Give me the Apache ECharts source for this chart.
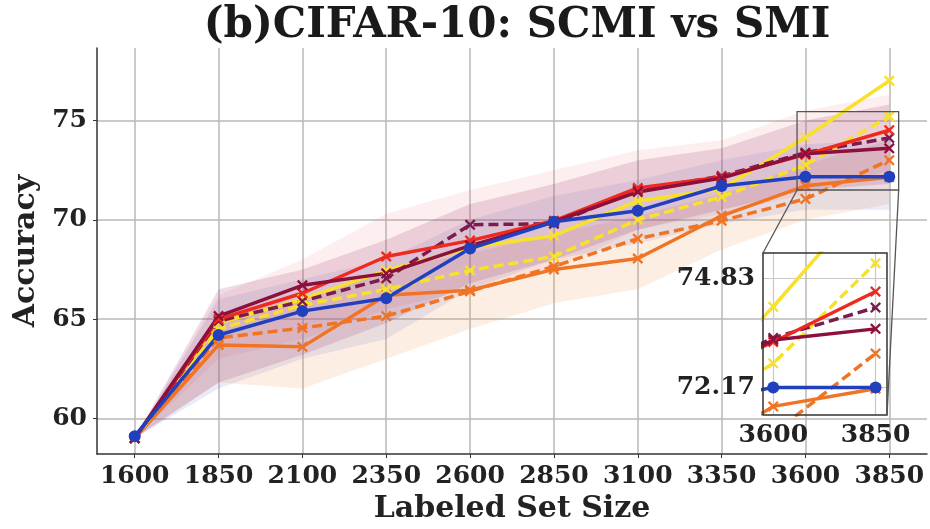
<!DOCTYPE html>
<html>
<head>
<meta charset="utf-8">
<script src="https://cdn.jsdelivr.net/npm/echarts@6/dist/echarts.min.js"></script>
<style>
  html, body { margin: 0; padding: 0; background: #fff; }
  #chart { width: 930px; height: 529px; }
</style>
</head>
<body>
<div id="chart"></div>
<script>
// labeled set sizes
var sizes = [1600, 1850, 2100, 2350, 2600, 2850, 3100, 3350, 3600, 3850];
var yTicks = [60, 65, 70, 75];

// accuracy curves
var yellowSolid  = [59.0, 64.8, 66.0, 67.45, 68.6, 69.2, 70.95, 71.55, 74.14, 77.0];
var yellowDashed = [59.0, 64.5, 65.7, 66.5, 67.45, 68.15, 70.0, 71.15, 72.76, 75.2];
var redSolid     = [59.0, 65.0, 66.3, 68.15, 68.95, 69.95, 71.6, 72.15, 73.28, 74.51];
var maroonSolid  = [59.0, 65.15, 66.7, 67.3, 68.7, 69.9, 71.4, 72.1, 73.33, 73.6];
var maroonDashed = [59.0, 64.9, 65.9, 67.05, 69.75, 69.8, 71.5, 72.2, 73.38, 74.12];
var blueSolid    = [59.1, 64.2, 65.4, 66.05, 68.55, 69.9, 70.45, 71.7, 72.17, 72.17];
var orangeSolid  = [59.0, 63.7, 63.6, 66.2, 66.45, 67.5, 68.05, 70.2, 71.71, 72.14];
var orangeDashed = [59.0, 64.05, 64.55, 65.15, 66.4, 67.65, 69.05, 69.95, 71.05, 73.0];

// shaded spread bands (lower / upper)
var maroonLow = [59, 61.8, 63.2, 64.8, 66.8, 68.0, 69.5, 70.5, 71.5, 71.8];
var maroonUp  = [59, 66.5, 67.5, 69.0, 70.8, 71.8, 73.0, 73.6, 75.0, 75.8];
var redLow    = [59, 63.0, 64.0, 65.5, 66.5, 67.5, 69.5, 70.3, 71.3, 72.5];
var redUp     = [59, 66.2, 68.0, 70.3, 71.5, 72.5, 73.5, 74.0, 75.5, 76.3];
var blueLow   = [59, 61.5, 63.0, 64.0, 66.5, 68.0, 68.8, 69.8, 70.5, 70.5];
var blueUp    = [59, 66.0, 67.0, 68.0, 70.0, 71.2, 72.0, 73.0, 73.8, 74.0];
var orangeLow = [59, 61.8, 61.5, 63.0, 64.5, 65.8, 66.5, 68.5, 70.0, 70.8];
var orangeUp  = [59, 65.3, 66.0, 67.5, 68.3, 69.3, 70.2, 71.3, 72.8, 74.0];

// zoomed inset
var insetX = [3600, 3850];
var insetTicks = [72.17, 74.83];
var insetXLim = [3575, 3878];
var insetYLim = [71.5, 75.45];

var font = 'DejaVu Serif';
var crossMark = 'path://M0,1.5L1.5,0L5,3.5L8.5,0L10,1.5L6.5,5L10,8.5L8.5,10L5,6.5L1.5,10L0,8.5L3.5,5Z';

function pairs(vals) {
    return sizes.map(function (s, i) { return [s, vals[i]]; });
}

var curves = [
    { data: orangeSolid, color: '#f07424', dashed: false, symbol: crossMark },
    { data: orangeDashed, color: '#f07424', dashed: true, symbol: crossMark },
    { data: yellowDashed, color: '#f7e12a', dashed: true, symbol: crossMark },
    { data: yellowSolid, color: '#f7e12a', dashed: false, symbol: crossMark },
    { data: maroonDashed, color: '#7c1c4e', dashed: true, symbol: crossMark },
    { data: redSolid, color: '#ee2a1e', dashed: false, symbol: crossMark },
    { data: maroonSolid, color: '#8c0f3c', dashed: false, symbol: crossMark },
    { data: blueSolid, color: '#2140bd', dashed: false, symbol: 'circle' }
];

var bands = [
    { low: orangeLow, up: orangeUp, color: 'rgba(244,140,70,0.15)' },
    { low: blueLow, up: blueUp, color: 'rgba(80,90,200,0.12)' },
    { low: redLow, up: redUp, color: 'rgba(235,80,80,0.09)' },
    { low: maroonLow, up: maroonUp, color: 'rgba(140,40,100,0.16)' }
];

var series = [];
bands.forEach(function (b) {
    series.push({
        type: 'custom',
        xAxisIndex: 0, yAxisIndex: 0,
        silent: true, z: 1,
        data: [0],
        renderItem: function (params, api) {
            var pts = [];
            sizes.forEach(function (s, i) { pts.push(api.coord([s, b.up[i]])); });
            for (var i = sizes.length - 1; i >= 0; i--) pts.push(api.coord([sizes[i], b.low[i]]));
            return { type: 'polygon', shape: { points: pts }, style: { fill: b.color, stroke: null } };
        }
    });
});

[0, 1].forEach(function (g) {
    curves.forEach(function (c) {
        series.push({
            type: 'line',
            xAxisIndex: g, yAxisIndex: g,
            data: pairs(c.data),
            symbol: c.symbol,
            symbolSize: c.symbol === 'circle' ? 12 : 11,
            itemStyle: { color: c.color },
            lineStyle: { color: c.color, width: 3.5, type: c.dashed ? [10, 5] : 'solid' },
            clip: true,
            z: 3
        });
    });
});

var labelStyle = { fontFamily: font, fontWeight: 'bold', fontSize: 25, color: '#222' };
var plain = function (v) { return String(v); };

var option = {
    animation: false,
    title: {
        text: '(b)CIFAR-10: SCMI vs SMI',
        left: 512, top: 0, textAlign: 'center',
        textStyle: { fontFamily: font, fontWeight: 'bold', fontSize: 42, color: '#1a1a1a' }
    },
    grid: [
        { left: 97, right: 3, top: 48, bottom: 72 },
        { left: 763, top: 253, width: 124, height: 162, show: true,
          borderColor: '#333', borderWidth: 1.5, backgroundColor: 'transparent', z: 4 }
    ],
    xAxis: [
        {
            type: 'value', gridIndex: 0, min: 1487.5, max: 3962.5,
            name: 'Labeled Set Size', nameLocation: 'middle', nameGap: 38,
            nameTextStyle: { fontFamily: font, fontWeight: 'bold', fontSize: 30, color: '#222' },
            axisLine: { lineStyle: { color: '#333', width: 1.5 } },
            axisTick: { customValues: sizes, length: 4, lineStyle: { color: '#333' } },
            axisLabel: Object.assign({ customValues: sizes, margin: 10, formatter: plain }, labelStyle),
            splitLine: { show: true, lineStyle: { color: '#b8b8b8', width: 1.5 } }
        },
        {
            type: 'value', gridIndex: 1, min: insetXLim[0], max: insetXLim[1],
            axisLine: { show: false },
            axisTick: { customValues: insetX, show: false },
            axisLabel: Object.assign({ customValues: insetX, margin: 8, formatter: plain }, labelStyle),
            splitLine: { show: true, lineStyle: { color: '#c8c8c8', width: 1.2 } }
        }
    ],
    yAxis: [
        {
            type: 'value', gridIndex: 0, min: 58.2, max: 78.65,
            name: 'Accuracy', nameLocation: 'middle', nameGap: 52,
            nameTextStyle: { fontFamily: font, fontWeight: 'bold', fontSize: 30, color: '#222' },
            axisLine: { show: true, lineStyle: { color: '#333', width: 1.5 } },
            axisTick: { show: true, customValues: yTicks, length: 4, lineStyle: { color: '#333' } },
            axisLabel: Object.assign({ customValues: yTicks, margin: 10, formatter: plain }, labelStyle),
            splitLine: { show: true, lineStyle: { color: '#b8b8b8', width: 1.5 } }
        },
        {
            type: 'value', gridIndex: 1, min: insetYLim[0], max: insetYLim[1],
            axisLine: { show: false },
            axisTick: { customValues: insetTicks, show: false },
            axisLabel: Object.assign({ customValues: insetTicks, margin: 8,
                formatter: function (v) { return v.toFixed(2); } }, labelStyle),
            splitLine: { show: true, lineStyle: { color: '#c8c8c8', width: 1.2 } }
        }
    ],
    series: series
};

var chart = echarts.init(document.getElementById('chart'));
chart.setOption(option);

// zoom box on the main plot and the connector lines to the inset
var p1 = chart.convertToPixel({ gridIndex: 0 }, [insetXLim[0], insetYLim[1]]);
var p2 = chart.convertToPixel({ gridIndex: 0 }, [insetXLim[1], insetYLim[0]]);
var q1 = chart.convertToPixel({ gridIndex: 1 }, [insetXLim[0], insetYLim[1]]);
var q2 = chart.convertToPixel({ gridIndex: 1 }, [insetXLim[1], insetYLim[0]]);
var edge = { stroke: '#555', lineWidth: 1.3, fill: null };
chart.setOption({
    graphic: [
        { type: 'rect', shape: { x: p1[0], y: p1[1], width: p2[0] - p1[0], height: p2[1] - p1[1] },
          style: edge, z: 10, silent: true },
        { type: 'line', shape: { x1: p1[0], y1: p2[1], x2: q1[0], y2: q1[1] }, style: edge, z: 10, silent: true },
        { type: 'line', shape: { x1: p2[0], y1: p2[1], x2: q2[0], y2: q2[1] }, style: edge, z: 10, silent: true }
    ]
});
</script>
</body>
</html>
